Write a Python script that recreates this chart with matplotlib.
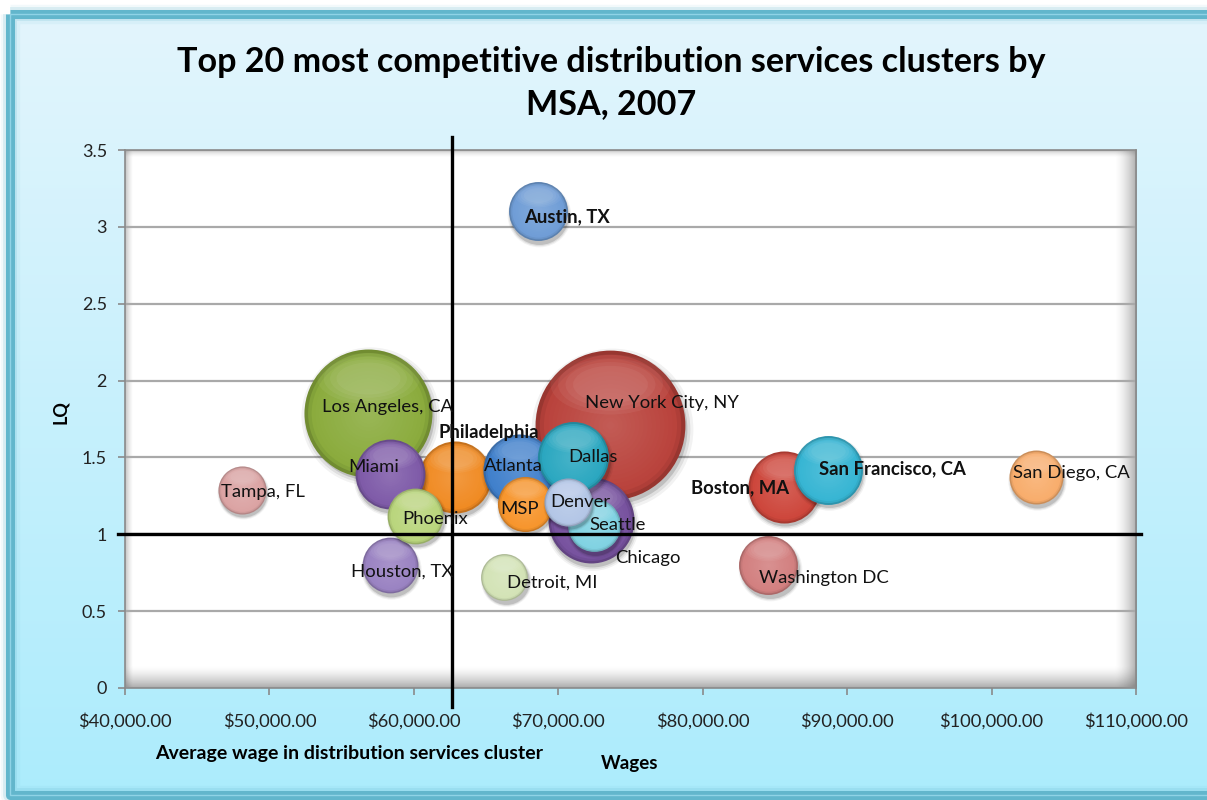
import numpy as np
import matplotlib
matplotlib.use("Agg")
import matplotlib.pyplot as plt
from matplotlib.transforms import offset_copy
from matplotlib.colors import to_rgb
from matplotlib.path import Path
from matplotlib.transforms import Affine2D
from matplotlib.patches import Rectangle
import matplotlib.ticker as mticker

plt.rcParams['font.family'] = ['Lato', 'DejaVu Sans']

# ---- data -------------------------------------------------------------
msa = ["Austin, TX", "Los Angeles, CA", "Philadelphia", "Miami", "Tampa, FL",
       "Phoenix", "Houston, TX", "Detroit, MI", "Atlanta", "MSP", "Dallas",
       "Denver", "Seattle", "Chicago", "New York City, NY", "Boston, MA",
       "San Francisco, CA", "San Diego, CA", "Washington DC"]
wages = [68600, 56850, 62850, 58350, 48100,
         60100, 58350, 66250, 67250, 67700, 71050,
         70650, 72450, 72250, 73600, 85600,
         88650, 103050, 84550]
lq = [3.10, 1.79, 1.37, 1.39, 1.29,
      1.12, 0.80, 0.72, 1.42, 1.20, 1.50,
      1.21, 1.06, 1.09, 1.71, 1.31,
      1.42, 1.37, 0.80]
cluster_size = [87, 410, 130, 122, 58,
                78, 78, 55, 130, 76, 126,
                58, 70, 185, 562, 130,
                119, 73, 87]
bold_labels = {"Austin, TX", "Philadelphia", "Boston, MA", "San Francisco, CA"}
philadelphia_wage = 62650
lq_baseline = 1.0

# ---- styling ----------------------------------------------------------
colors = {
    "Austin, TX": "#6f9dd6", "Los Angeles, CA": "#8aab3c", "Philadelphia": "#f08a22",
    "Miami": "#7e5aa8", "Tampa, FL": "#dba3a3", "Phoenix": "#b9d57c",
    "Houston, TX": "#9a82c2", "Detroit, MI": "#d3e3b6", "Atlanta": "#3f7fcb",
    "MSP": "#f7952c", "Dallas": "#2aa7c0", "Denver": "#b3c6e6", "Seattle": "#80d2e2",
    "Chicago": "#77529f", "New York City, NY": "#b9423b", "Boston, MA": "#cd463b",
    "San Francisco, CA": "#36b5d3", "San Diego, CA": "#f8ad6c", "Washington DC": "#d27f7f",
}
# label offsets in points from the bubble centre
label_offsets = {
    "Austin, TX": (21, -4), "Los Angeles, CA": (14, 4), "Philadelphia": (24, 32),
    "Miami": (-12, 5), "Tampa, FL": (15, -2), "Phoenix": (14, -2),
    "Houston, TX": (9, -5), "Detroit, MI": (35, -4), "Atlanta": (-4, 3),
    "MSP": (-4, -4), "Dallas": (14, 0), "Denver": (9, 0), "Seattle": (17, 0),
    "Chicago": (41, -27), "New York City, NY": (37, 16), "Boston, MA": (-31, -1),
    "San Francisco, CA": (47, 1), "San Diego, CA": (26, 3), "Washington DC": (40, -9),
}
SIZE_SCALE = 20.7

W, H = 1207, 800
fig = plt.figure(figsize=(W / 100, H / 100), dpi=100)
fig.patch.set_facecolor("white")

# background panel with a soft vertical gradient and teal frame
bg = fig.add_axes([0, 0, 1, 1], zorder=-10)
bg.set_xlim(0, W)
bg.set_ylim(H, 0)
bg.axis("off")
g = np.linspace(0, 1, 256)[:, None, None]
top_c = np.array(to_rgb("#e3f5fc"))
bot_c = np.array(to_rgb("#acecfd"))
grad = top_c * (1 - g) + bot_c * g
bg.imshow(grad, extent=[10, W + 30, 795, 14], aspect="auto",
          interpolation="bilinear", zorder=1)
for lw, a in [(14, 0.08), (10, 0.18), (6.5, 1.0)]:
    bg.add_patch(Rectangle((10, 14), W + 40, 781, fill=False,
                           edgecolor="#62b6cc", lw=lw, alpha=a, zorder=2,
                           joinstyle="round"))
bg.add_patch(Rectangle((10, 14), W + 40, 781, fill=False,
                       edgecolor="#8fd3e6", lw=1.0, zorder=3))

# main plot area
L, B, R, T = 125, 112, 1136, 650
ax = fig.add_axes([L / W, B / H, (R - L) / W, (T - B) / H])
ax.set_facecolor("white")

# inner bevel shading of the plot area
ph, pw = T - B, R - L
yy, xx = np.mgrid[0:ph, 0:pw]
d_top, d_bot = yy, ph - 1 - yy
d_left, d_right = xx, pw - 1 - xx
a_b = np.clip(1 - d_bot / 22, 0, 1) ** 1.5 * 0.50
a_r = np.clip(1 - d_right / 22, 0, 1) ** 1.6 * 0.50
a_t = np.clip(1 - d_top / 7, 0, 1) ** 1.5 * 0.30
a_l = np.clip(1 - d_left / 8, 0, 1) ** 1.5 * 0.35
alpha = 1 - (1 - a_b) * (1 - a_r) * (1 - a_t) * (1 - a_l)
shade = np.zeros((ph, pw, 4))
shade[..., :3] = 0.35
shade[..., 3] = alpha
ax.imshow(shade, extent=[0, 1, 0, 1], transform=ax.transAxes, aspect="auto",
          zorder=0.2, interpolation="bilinear")

ax.set_xlim(40000, 110000)
ax.set_ylim(0, 3.5)
ax.set_yticks(np.arange(0, 3.51, 0.5))
ax.set_xticks(np.arange(40000, 110001, 10000))
ax.yaxis.set_major_formatter(mticker.FuncFormatter(lambda v, p: f"{v:g}"))
ax.xaxis.set_major_formatter(mticker.FuncFormatter(lambda v, p: f"${v:,.2f}"))
ax.yaxis.grid(True, color="#a9a9a9", lw=1.6)
ax.set_axisbelow(True)
for side in ["left", "top", "right", "bottom"]:
    ax.spines[side].set_color("#8a8a8a")
    ax.spines[side].set_linewidth(1.2)
ax.tick_params(axis="y", length=5, width=1.2, color="#8a8a8a", pad=8,
               labelsize=13, labelcolor="#222222")
ax.tick_params(axis="x", length=5, width=1.2, color="#8a8a8a", pad=13,
               labelsize=13.2, labelcolor="#222222")

# bubbles
ellipse = Path.unit_circle().transformed(Affine2D().scale(1.0, 0.5))


def mix(c, other, f):
    return tuple(np.array(c) * (1 - f) + np.array(other) * f)


def draw_bubble(x, y, s, color, z):
    base = to_rgb(color)
    r = np.sqrt(s) / 2.0
    # drop shadow
    sh = offset_copy(ax.transData, fig=fig, x=1.0, y=-2.5, units="points")
    for scale, a in [(1.08, 0.05), (1.04, 0.08), (1.0, 0.14)]:
        ax.scatter([x], [y], s=s * scale ** 2, color="black", alpha=a, lw=0,
                   transform=sh, zorder=z)
    # body gradient: darker rim, lighter towards the middle
    n = 18
    for i in range(n):
        t = 1 - i / n
        if t > 0.92:
            c = mix(base, (0, 0, 0), 0.18 * (t - 0.92) / 0.08)
        else:
            c = mix(base, (1, 1, 1), 0.14 * (0.92 - t) / 0.92)
        ax.scatter([x], [y], s=s * t ** 2, color=c, lw=0, zorder=z + 0.01 * i)
    # soft highlight near the top
    hl = offset_copy(ax.transData, fig=fig, x=0, y=0.55 * r, units="points")
    for scale, a in [(0.80, 0.05), (0.70, 0.05), (0.60, 0.05), (0.50, 0.05)]:
        ax.scatter([x], [y], s=s * scale ** 2, marker=ellipse, color="white",
                   alpha=a, lw=0, transform=hl, zorder=z + 0.2)


order = np.argsort(cluster_size)[::-1]
for rank, i in enumerate(order):
    draw_bubble(wages[i], lq[i], cluster_size[i] * SIZE_SCALE, colors[msa[i]],
                3 + rank * 0.5)

# quadrant reference lines
ax.plot([philadelphia_wage, philadelphia_wage], [-0.125, 3.585], color="black",
        lw=2.4, clip_on=False, zorder=20)
ax.plot([39500, 110350], [lq_baseline, lq_baseline], color="black", lw=2.4,
        clip_on=False, zorder=20)

# labels
for i, name in enumerate(msa):
    dx, dy = label_offsets[name]
    ax.annotate(name, (wages[i], lq[i]), xytext=(dx, dy),
                textcoords="offset points", ha="center", va="center",
                fontsize=13.3, color="#111111",
                fontweight="bold" if name in bold_labels else "normal",
                zorder=30)

# titles
fig.text(611 / W, 1 - 62 / H, "Top 20 most competitive distribution services clusters by",
         ha="center", va="center", fontsize=24.6, fontweight="bold", color="black")
fig.text(611 / W, 1 - 104 / H, "MSA, 2007", ha="center", va="center",
         fontsize=24.6, fontweight="bold", color="black")
fig.text(60 / W, 1 - 412 / H, "LQ", rotation=90, ha="center", va="center",
         fontsize=13, fontweight="bold", color="black")
fig.text(630 / W, 1 - 763 / H, "Wages", ha="center", va="center",
         fontsize=13.5, fontweight="bold", color="black")
fig.text(349 / W, 1 - 754 / H, "Average wage in distribution services cluster",
         ha="center", va="center", fontsize=14, fontweight="bold", color="black")

fig.savefig("out.png", dpi=100)
